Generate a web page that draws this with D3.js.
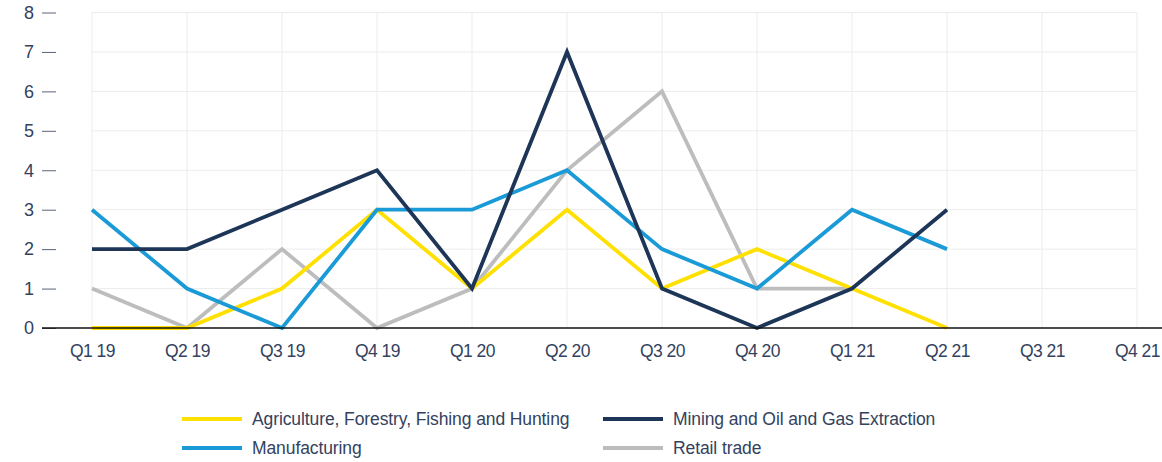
<!DOCTYPE html>
<html><head><meta charset="utf-8">
<script src="https://cdn.jsdelivr.net/npm/d3@7"></script>
<style>
body{margin:0;background:#fff;}
svg{display:block;font-family:"Liberation Sans",Arial,sans-serif;}
</style></head>
<body><svg id="c" width="1162" height="462"></svg>
<script>
const categories = ["Q1 19","Q2 19","Q3 19","Q4 19","Q1 20","Q2 20","Q3 20","Q4 20","Q1 21","Q2 21","Q3 21","Q4 21"];
const agriculture = [0,0,1,3,1,3,1,2,1,0];
const mining = [2,2,3,4,1,7,1,0,1,3];
const manufacturing = [3,1,0,3,3,4,2,1,3,2];
const retail = [1,0,2,0,1,4,6,1,1];
const yTicks = [0,1,2,3,4,5,6,7,8];
const seriesNames = ["Agriculture, Forestry, Fishing and Hunting","Mining and Oil and Gas Extraction","Manufacturing","Retail trade"];
const seriesColors = ["#FFE000","#1D3557","#1A9AD6","#BDBDBD"];

const series = [
  {name: seriesNames[0], values: agriculture, color: seriesColors[0]},
  {name: seriesNames[1], values: mining, color: seriesColors[1]},
  {name: seriesNames[2], values: manufacturing, color: seriesColors[2]},
  {name: seriesNames[3], values: retail, color: seriesColors[3]}
];

const svg = d3.select("#c");
const x = d3.scalePoint().domain(categories).range([92, 1137]);
const y = d3.scaleLinear().domain([0, 8]).range([328, 12.5]);
const textColor = "#33425e";

// grid
const g = svg.append("g");
g.selectAll(".hg").data(yTicks.slice(1)).join("line")
  .attr("x1", 92).attr("x2", 1137)
  .attr("y1", d => y(d)).attr("y2", d => y(d))
  .attr("stroke", "#ececec").attr("stroke-width", 1);
g.selectAll(".vg").data(categories).join("line")
  .attr("x1", d => x(d)).attr("x2", d => x(d))
  .attr("y1", y(8)).attr("y2", y(0))
  .attr("stroke", "#ececec").attr("stroke-width", 1);

// y axis
const yAxis = svg.append("g").attr("transform", "translate(56,0)")
  .call(d3.axisLeft(y).tickValues(yTicks).tickSize(14).tickPadding(8).tickFormat(d3.format("d")));
yAxis.select(".domain").remove();
yAxis.selectAll(".tick line").attr("stroke", "#5a6478").attr("stroke-width", 1);
yAxis.selectAll(".tick text").attr("fill", textColor).style("font-size", "18px")
  .style("font-family", "'Liberation Sans',Arial,sans-serif");

// x axis
const xAxis = svg.append("g").attr("transform", `translate(0,${y(0)})`)
  .call(d3.axisBottom(x).tickSize(0).tickPadding(17));
xAxis.select(".domain").remove();
xAxis.selectAll(".tick text").attr("fill", textColor).style("font-size", "17.5px")
  .style("letter-spacing", "-0.5px")
  .style("font-family", "'Liberation Sans',Arial,sans-serif");

// lines
const line = d3.line().x((d, i) => x(categories[i])).y(d => y(d));
const order = [3, 0, 2, 1];
svg.append("g").selectAll("path").data(order.map(i => series[i])).join("path")
  .attr("d", d => line(d.values))
  .attr("fill", "none").attr("stroke", d => d.color)
  .attr("stroke-width", 3.8).attr("stroke-linejoin", "miter").attr("stroke-linecap", "butt");

// baseline
svg.append("line").attr("x1", 42).attr("x2", 1162).attr("y1", y(0)).attr("y2", y(0))
  .attr("stroke", "#111").attr("stroke-width", 1.5);

// legend
const legendPos = [[182, 419], [603, 419], [182, 448], [603, 448]];
const lg = svg.append("g").selectAll("g").data(series).join("g")
  .attr("transform", (d, i) => `translate(${legendPos[i][0]},${legendPos[i][1]})`);
lg.append("line").attr("x1", 0).attr("x2", 60).attr("y1", 0).attr("y2", 0)
  .attr("stroke", d => d.color).attr("stroke-width", 4);
lg.append("text").attr("x", 70).attr("y", 0).attr("dy", "0.35em")
  .attr("fill", textColor).style("font-size", "17.5px").style("letter-spacing", "-0.1px")
  .text(d => d.name);
</script></body></html>
